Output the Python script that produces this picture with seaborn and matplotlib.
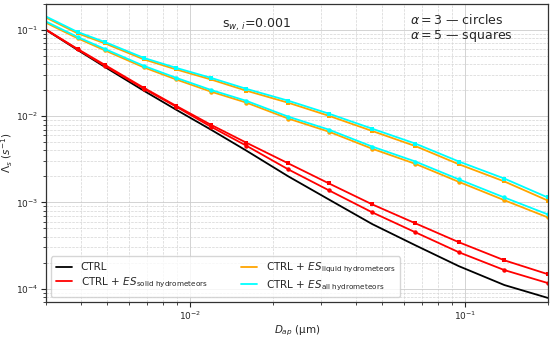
import numpy as np
import pandas as pd
import matplotlib
matplotlib.use("Agg")
import matplotlib.pyplot as plt
from matplotlib.lines import Line2D
import seaborn as sns

# ====== Data ======
d_ap = [0.003, 0.0039, 0.0049, 0.0068, 0.0089, 0.0119, 0.016, 0.0228,
        0.032, 0.046, 0.066, 0.095, 0.139, 0.2]

ctrl = [0.100, 0.0587, 0.0373, 0.0197, 0.0119, 0.0070, 0.0040, 0.0020,
        0.00108, 5.6e-4, 3.18e-4, 1.82e-4, 1.10e-4, 7.8e-5]

solid_a3 = [0.100, 0.0595, 0.0383, 0.0208, 0.0129, 0.00757, 0.00456, 0.00241,
            0.00138, 7.66e-4, 4.50e-4, 2.64e-4, 1.64e-4, 1.16e-4]
solid_a5 = [0.101, 0.0603, 0.0394, 0.0213, 0.0132, 0.00797, 0.00494, 0.00283,
            0.00166, 9.48e-4, 5.72e-4, 3.45e-4, 2.13e-4, 1.47e-4]

liquid_a3 = [0.121, 0.0802, 0.0581, 0.0368, 0.0267, 0.0193, 0.0144, 0.00937,
             0.00661, 0.00419, 0.00280, 0.00173, 0.00106, 6.7e-4]
liquid_a5 = [0.139, 0.0915, 0.0700, 0.0456, 0.0349, 0.0267, 0.0198, 0.0143,
             0.0101, 0.00673, 0.00450, 0.00277, 0.00175, 0.00105]

all_a3 = [0.125, 0.0830, 0.0603, 0.0383, 0.0279, 0.0202, 0.0151, 0.00986,
          0.00698, 0.00444, 0.00298, 0.00185, 0.00114, 7.26e-4]
all_a5 = [0.143, 0.0948, 0.0726, 0.0474, 0.0364, 0.0279, 0.0208, 0.0151,
          0.0107, 0.00716, 0.00481, 0.00298, 0.00189, 0.00114]

labels = ["CTRL",
          r"CTRL + $ES_{\mathrm{solid\ hydrometeors}}$",
          r"CTRL + $ES_{\mathrm{liquid\ hydrometeors}}$",
          r"CTRL + $ES_{\mathrm{all\ hydrometeors}}$"]
colors = ["black", "red", "orange", "cyan"]

# (values, color, marker)
series = [
    (ctrl, "black", None),
    (solid_a3, "red", "o"),
    (solid_a5, "red", "s"),
    (liquid_a3, "orange", "o"),
    (liquid_a5, "orange", "s"),
    (all_a3, "cyan", "o"),
    (all_a5, "cyan", "s"),
]

# ====== Plot ======
sns.set_theme(style="ticks")
plt.rcParams['font.family'] = ['DejaVu Sans']

fig, ax = plt.subplots(figsize=(5.5, 3.37), dpi=100)
fig.subplots_adjust(left=0.084, right=0.996, top=0.988, bottom=0.104)
ax.set_xscale("log")
ax.set_yscale("log")

for vals, col, mk in series:
    df = pd.DataFrame({"D": d_ap, "L": vals})
    kw = {}
    if mk is not None:
        kw = dict(marker=mk, markersize=3.2, markevery=list(range(1, len(d_ap))),
                  markeredgewidth=0)
    sns.lineplot(data=df, x="D", y="L", color=col, lw=1.3, ax=ax,
                 legend=False, **kw)

ax.set_xlim(0.003, 0.2)
ax.set_ylim(7e-5, 0.2)
ax.grid(which="major", color="#cccccc", ls="-", lw=0.6)
ax.grid(which="minor", color="#d5d5d5", ls="--", lw=0.5)
ax.set_axisbelow(True)
for s in ax.spines.values():
    s.set_color("#333333")
    s.set_linewidth(0.9)
ax.tick_params(axis="both", which="major", labelsize=6.5, length=3.5,
               width=0.8, pad=2)
ax.tick_params(axis="both", which="minor", length=2, width=0.6)

ax.set_xlabel(r"$D_{ap}$ (μm)", fontsize=7.5, labelpad=1)
ax.set_ylabel(r"$\Lambda_s$ $(s^{-1})$", fontsize=7.5, labelpad=1)

ax.text(0.42, 0.93, r"s$_{w,\,i}$=0.001", transform=ax.transAxes,
        fontsize=9, ha="center", va="center")
ax.text(0.725, 0.97, "$\\alpha = 3$ — circles\n$\\alpha = 5$ — squares",
        transform=ax.transAxes, fontsize=9, ha="left", va="top",
        linespacing=1.1)

handles = [Line2D([], [], color=c, lw=1.3) for c in colors]
ax.legend(handles, labels, ncol=2, loc="lower left", fontsize=7.5,
          frameon=True, handlelength=1.6, columnspacing=3.2,
          borderaxespad=0.5, labelspacing=0.3)

plt.savefig("out.png", dpi=100)
